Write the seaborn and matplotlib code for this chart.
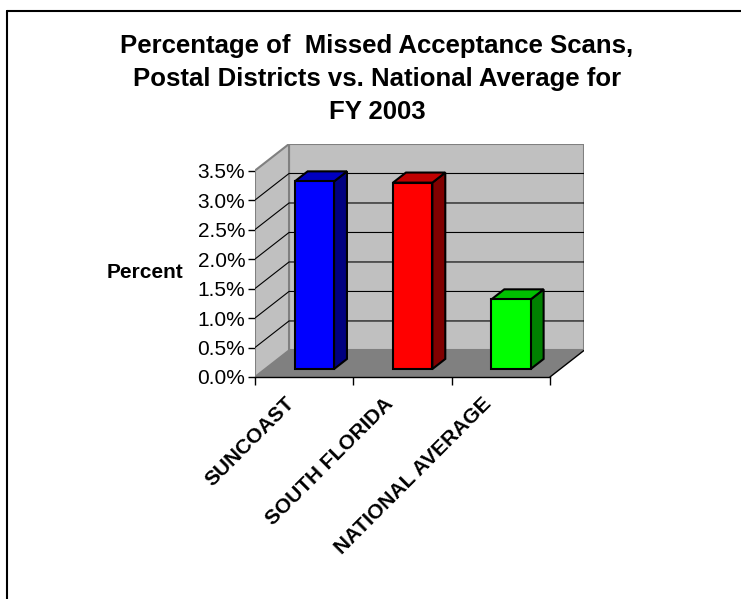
import numpy as np
import matplotlib
matplotlib.use('Agg')
import matplotlib.pyplot as plt
from matplotlib.patches import Polygon
from matplotlib.lines import Line2D
from matplotlib.transforms import Affine2D, ScaledTranslation
from matplotlib.ticker import FuncFormatter
import seaborn as sns

# values (percent of missed acceptance scans, FY 2003)
districts = ['SUNCOAST', 'SOUTH FLORIDA', 'NATIONAL AVERAGE']
pct_missed = [3.18, 3.16, 1.18]
front_colors = ['#0000ff', '#ff0000', '#00ff00']
side_colors = ['#000080', '#800000', '#008000']
top_colors = ['#0000c0', '#c00000', '#00c000']
y_ticks = [0.0, 0.5, 1.0, 1.5, 2.0, 2.5, 3.0, 3.5]

title = ('Percentage of  Missed Acceptance Scans,\n'
         'Postal Districts vs. National Average for\n'
         'FY 2003')

sns.set_style('white')
plt.rcParams['font.family'] = ['Liberation Sans', 'DejaVu Sans']
plt.rcParams['text.color'] = 'black'
plt.rcParams['xtick.color'] = 'black'
plt.rcParams['ytick.color'] = 'black'
plt.rcParams['axes.labelcolor'] = 'black'

# fake excel-style 3d: depth shift in data units, bars sit between Z0 and Z1
DX, DY = 0.346, 0.45
Z0, Z1 = 0.3, 0.68


def proj(x, y, z):
    return (x + DX * z, y + DY * z)


fig = plt.figure(figsize=(7.41, 5.99), dpi=100)
ax = fig.add_axes([255 / 741, 1 - 377 / 599, 329 / 741, 233 / 599])
ax.patch.set_visible(False)

sns.barplot(x=districts, y=pct_missed, hue=districts, palette=front_colors,
            saturation=1, width=0.4, errorbar=None, legend=False,
            edgecolor='black', linewidth=1.5, ax=ax)
bars = [p for c in ax.containers for p in c]

x_lo, x_hi = -0.5, len(districts) - 0.5
y_top = y_ticks[-1]

# walls and floor
back = [proj(x_lo, 0, 1), proj(x_hi, 0, 1), proj(x_hi, y_top, 1), proj(x_lo, y_top, 1)]
side = [proj(x_lo, 0, 0), proj(x_lo, 0, 1), proj(x_lo, y_top, 1), proj(x_lo, y_top, 0)]
floor = [proj(x_lo, 0, 0), proj(x_hi, 0, 0), proj(x_hi, 0, 1), proj(x_lo, 0, 1)]
ax.add_patch(Polygon(back, closed=True, fc='#c0c0c0', ec='#808080', lw=1.5, zorder=1))
ax.add_patch(Polygon(side, closed=True, fc='#c0c0c0', ec='#808080', lw=1.5, zorder=1))
ax.add_patch(Polygon(floor, closed=True, fc='#808080', ec='none', zorder=1.5))

# gridlines on side + back wall
for t in y_ticks[1:-1]:
    pts = [proj(x_lo, t, 0), proj(x_lo, t, 1), proj(x_hi, t, 1)]
    ax.plot([p[0] for p in pts], [p[1] for p in pts], color='black', lw=0.8, zorder=2)
a, b = proj(x_hi, 0, 0), proj(x_hi, 0, 1)
ax.plot([a[0], b[0]], [a[1], b[1]], color='black', lw=1, zorder=2)

# push the seaborn bars back and give them a side and a top
for i, p in enumerate(bars):
    x0, w, h = p.get_x(), p.get_width(), p.get_height()
    p.set_transform(Affine2D().translate(DX * Z0, DY * Z0) + ax.transData)
    p.set_zorder(6)
    sd = [proj(x0 + w, 0, Z0), proj(x0 + w, 0, Z1), proj(x0 + w, h, Z1), proj(x0 + w, h, Z0)]
    tp = [proj(x0, h, Z0), proj(x0 + w, h, Z0), proj(x0 + w, h, Z1), proj(x0, h, Z1)]
    ax.add_patch(Polygon(sd, closed=True, fc=side_colors[i], ec='black', lw=1.5, zorder=5))
    ax.add_patch(Polygon(tp, closed=True, fc=top_colors[i], ec='black', lw=1.5, zorder=5))

ax.set_xlim(x_lo, x_hi + DX)
ax.set_ylim(0, y_top + DY)

for s in ['top', 'right', 'left']:
    ax.spines[s].set_visible(False)
ax.spines['bottom'].set_bounds(x_lo, x_hi)
ax.spines['bottom'].set_color('black')
ax.spines['bottom'].set_linewidth(1)
ax.spines['bottom'].set_zorder(3)

ax.set_yticks(y_ticks)
ax.yaxis.set_major_formatter(FuncFormatter(lambda v, _: f'{v:.1f}%'))
ax.tick_params(axis='y', left=True, length=5, width=1, color='black', labelsize=15, pad=2)

ax.set_xticks(range(len(districts)))
ax.set_xticklabels(districts, rotation=45, ha='right', rotation_mode='anchor',
                   fontweight='bold', fontsize=15)
ax.tick_params(axis='x', which='major', length=0, pad=10)
shift = ScaledTranslation(-19 / 100, -3 / 100, fig.dpi_scale_trans)
for lab in ax.get_xticklabels():
    lab.set_transform(lab.get_transform() + shift)
ax.set_xticks(np.arange(x_lo, x_hi + 0.1, 1), minor=True)
ax.tick_params(axis='x', which='minor', bottom=True, length=6, width=1, color='black')
ax.set_xlabel('')
ax.set_ylabel('')

fig.text(377 / 741, 1 - 34 / 599, title, ha='center', va='top', fontsize=18.5,
         fontweight='bold', linespacing=1.47)
fig.text(145 / 741, 1 - 273 / 599, 'Percent', ha='center', va='center',
         fontsize=15, fontweight='bold')

# chart area border (runs off the right and bottom edge)
fig.add_artist(Line2D([7 / 741, 1], [1 - 11 / 599] * 2, transform=fig.transFigure, color='black', lw=1.5))
fig.add_artist(Line2D([7 / 741] * 2, [0, 1 - 11 / 599], transform=fig.transFigure, color='black', lw=1.5))

fig.savefig('out.png', dpi=100)
